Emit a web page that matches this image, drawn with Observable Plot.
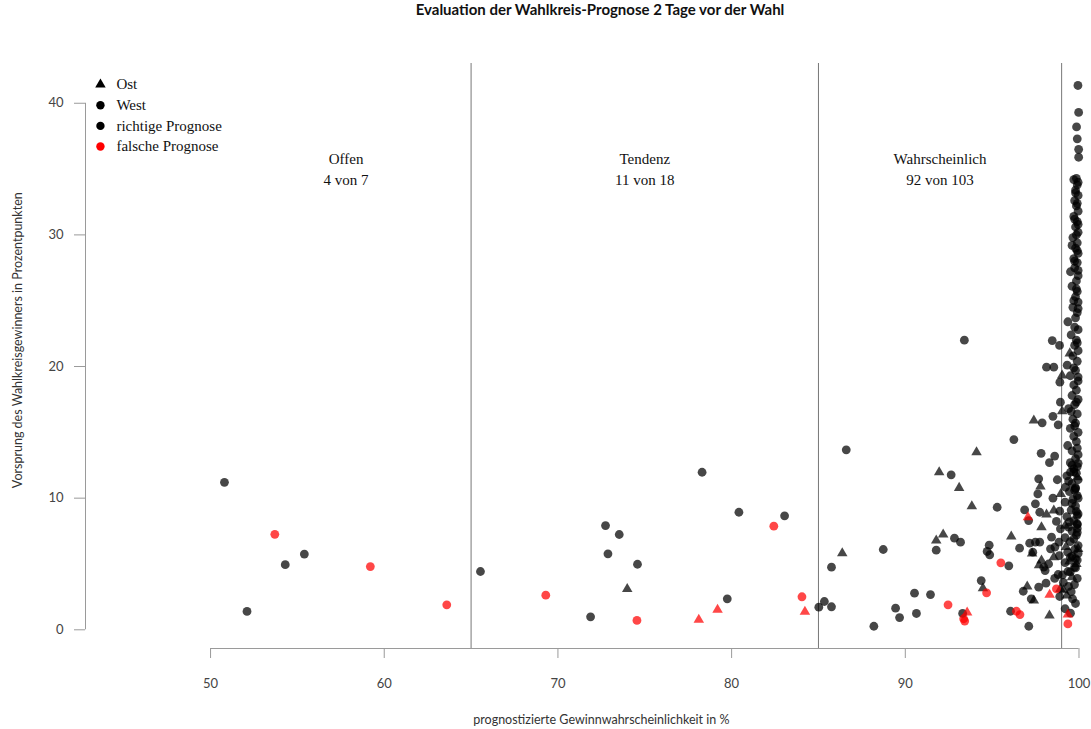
<!DOCTYPE html>
<html><head><meta charset="utf-8">
<script src="https://cdn.jsdelivr.net/npm/d3@7"></script>
<script src="https://cdn.jsdelivr.net/npm/@observablehq/plot@0.6"></script>
<style>
body{margin:0;background:#fff;}
#title{height:40px;line-height:40px;font:bold 15px Lato, sans-serif;position:relative;width:1091px;color:#111;}
#title span{position:absolute;left:600px;transform:translateX(-50%);white-space:nowrap;}
</style></head><body>
<div id="title"><span>Evaluation der Wahlkreis-Prognose 2 Tage vor der Wahl</span></div>
<div id="chart"></div>
<script>
// ---- data ----
const xTicks = [50, 60, 70, 80, 90, 100];
const yTicks = [0, 10, 20, 30, 40];
const cutoffs = [65, 85, 99];
const zoneNames = ["Offen", "Tendenz", "Wahrscheinlich"];
const zoneCounts = ["4 von 7", "11 von 18", "92 von 103"];
const zoneX = [57.8, 75, 92];
const legendLabels = ["Ost", "West", "richtige Prognose", "falsche Prognose"];
const legendSymbols = ["triangle", "circle", "circle", "circle"];
const legendColors = ["black", "black", "black", "red"];
const xTitle = "prognostizierte Gewinnwahrscheinlichkeit in %";
const yTitle = "Vorsprung des Wahlkreisgewinners in Prozentpunkten";

// West, richtige Prognose  [Wahrscheinlichkeit, Vorsprung]
const westRight = [
 [50.8,11.2],[52.1,1.4],[54.3,4.95],[55.4,5.75],
 [65.54,4.43],[71.88,0.99],[72.74,7.92],[72.88,5.77],[73.53,7.24],[74.58,4.98],[78.3,11.97],[79.75,2.35],[80.42,8.93],[83.05,8.66],
 [85.02,1.72],[85.34,2.15],[85.75,1.75],[85.75,4.76],[86.6,13.67],[88.19,0.27],[88.73,6.1],[89.44,1.64],[89.67,0.93],[90.53,2.78],
 [90.64,1.24],[91.45,2.68],[91.78,6.05],[92.64,11.77],[92.83,6.96],[93.18,6.66],[93.3,1.24],[93.4,22.0],[94.37,3.74],[94.83,6.43],
 [94.71,5.95],[94.86,5.7],[95.29,9.31],[95.96,4.86],[96.58,6.2],[96.06,1.41],[97.11,0.27],[96.79,2.93],[97.25,2.35],[97.68,3.24],
 [98.1,3.54],[98.89,2.53],[97.16,6.58],[97.34,5.9],[97.49,6.66],[97.74,6.66],[96.87,9.11],[97.1,8.3],[97.49,9.57],[97.74,8.93],
 [97.68,11.47],[97.63,10.32],[98.7,8.23],[98.42,7.04],[98.61,6.28],[98.36,6.15],[97.97,4.76],[98.05,4.5],[98.87,5.64],[98.85,6.66],
 [98.93,7.67],[98.89,9.01],[98.46,21.97],[98.88,21.6],[98.13,19.95],[98.55,19.95],[98.9,18.81],[98.93,17.29],[98.5,16.22],[97.88,15.72],
 [98.8,15.57],[96.25,14.45],[97.82,13.41],[98.3,12.7],[98.6,13.2],[98.75,11.4],[98.5,10.0],[98.8,4.2],[98.6,3.9],[98.25,5.0],
 [99.22,10.83],[99.51,11.97],[99.7,12.23],[99.95,12.65],[99.8,10.73],[99.9,8.68],[99.9,8.05],[99.9,7.4],[99.8,5.4],[99.74,4.76],
 [99.36,4.43],[99.05,4.18],[99.4,3.3],[99.5,5.5],[99.51,1.26],[99.63,2.35],[99.74,3.44],
 [99.5,4.4],[99.8,4.7],[99.2,5.1],[99.9,5.3],[99.6,5.6],[99.35,5.9],[99.75,6.1],[99.95,6.4],[99.5,6.7],[99.2,7.0],[99.85,7.2],[99.6,7.5],
 [99.4,7.8],[99.9,8.0],[99.7,8.3],[99.3,8.6],[99.95,8.8],[99.55,9.1],[99.8,9.4],[99.2,9.7],[99.65,9.9],[99.9,10.2],[99.45,10.5],[99.8,10.8],
 [99.6,11.1],[99.95,11.4],[99.3,11.7],[99.7,12.0],[99.9,12.4],[99.5,12.7],[99.8,13.0],[99.95,13.3],[99.6,13.6],[99.35,14.0],[99.85,14.3],
 [99.7,14.7],[99.95,15.0],[99.5,15.3],[99.8,15.7],[99.65,16.0],[99.9,16.4],[99.4,16.8],[99.75,17.1],[99.95,17.5],[99.6,17.8],[99.85,18.2],
 [99.7,18.6],[99.95,18.9],[99.5,19.3],[99.8,19.7],[99.32,20.1],[99.9,20.4],[99.65,20.8],[99.95,21.2],[99.75,21.6],[99.85,22.0],[99.55,22.4],
 [99.95,22.8],[99.36,23.4],[99.8,23.7],[99.9,24.1],[99.65,24.5],[99.95,24.9],[99.8,25.3],[99.9,25.7],[99.6,26.1],[99.85,26.5],[99.95,26.9],
 [99.51,27.2],[99.75,27.5],[99.9,27.9],[99.7,28.2],[99.95,28.6],[99.8,29.0],[99.9,29.4],[99.65,29.8],[99.95,30.2],[99.8,30.6],[99.9,31.0],
 [99.7,31.4],[99.95,31.8],[99.85,32.2],[99.75,32.6],[99.95,33.0],[99.8,33.4],[99.9,33.8],[99.7,34.2],[99.98,35.9],[99.98,36.5],[99.9,37.3],
 [99.86,38.2],[99.98,39.3],[99.94,41.35],
 [99.95,5.8],[99.7,6.9],[99.9,7.7],[99.45,8.2],[99.85,9.0],[99.6,9.6],[99.95,10.0],[99.75,10.6],[99.4,11.3],[99.85,11.9],[99.6,12.5],
 [99.9,13.8],[99.75,15.5],[99.55,16.6],[99.85,17.3],[99.95,19.2],[99.7,19.9],[99.9,21.8],[99.75,23.0],[99.95,24.4],[99.7,25.0],[99.85,25.9],
 [99.95,27.3],[99.75,28.0],[99.9,28.8],[99.6,29.2],[99.85,30.0],[99.95,30.8],[99.75,31.2],[99.9,32.4],[99.8,33.2],[99.95,34.0],[99.85,34.3],
 [99.1,3.6],[99.55,2.9],[99.8,2.0],[99.2,1.6],[99.9,3.9]
];
// Ost, richtige Prognose
const eastRight = [
 [73.99,3.1],
 [86.37,5.82],[91.78,6.78],[92.18,7.24],[91.95,11.97],[93.1,10.78],[93.83,9.39],[94.1,13.49],[94.47,3.16],[96.1,7.09],[97.02,3.29],
 [97.4,2.23],[98.93,3.11],[98.3,1.09],[97.4,15.9],[97.84,7.79],[97.78,10.88],[98.13,8.76],[98.55,9.06],[97.84,5.26],[98.55,5.52],
 [98.95,10.32],[97.3,5.8],[97.7,4.9],
 [99.03,19.32],[99.03,16.6],[99.95,6.15],[99.85,5.0],[99.1,3.0],[99.25,6.3],[99.45,5.2],[99.9,11.6],[99.47,21.0],[99.2,7.9],[99.6,4.0],[99.3,2.6]
];
// West, falsche Prognose
const westWrong = [
 [53.7,7.25],[59.2,4.8],[63.6,1.9],[69.3,2.63],[74.55,0.71],[82.43,7.87],[84.05,2.51],[92.46,1.9],[93.36,0.84],[93.42,0.66],
 [94.68,2.81],[95.5,5.09],[96.4,1.41],[96.6,1.16],[98.7,3.11],[99.36,0.45]
];
// Ost, falsche Prognose
const eastWrong = [
 [78.11,0.76],[79.19,1.52],[84.22,1.37],[93.56,1.31],[97.06,8.55],[98.31,2.66],[99.36,1.16]
];

// ---- chart ----
const xDomain = [42.8, 100.72];
const yDomain = [-1.42, 43.02];
const serif = "'Liberation Serif', 'DejaVu Serif', serif";
const toRows = arr => arr.map(([x, y]) => ({x, y}));
const zones = zoneNames.map((name, i) => ({name, count: zoneCounts[i], x: zoneX[i]}));
const legendRows = legendLabels.map((label, i) => ({label, symbol: legendSymbols[i], color: legendColors[i], x: 43.66, tx: 44.58, y: 41.42 - i * 1.57}));

const legendDots = legendRows.map(d => Plot.dot([d], {x: "x", y: "y", symbol: d.symbol, r: d.symbol === "triangle" ? 3.9 : 4.2, fill: d.color, stroke: "none"}));

const plot = Plot.plot({
  width: 1091, height: 689,
  marginLeft: 85, marginRight: 0, marginTop: 23, marginBottom: 81,
  x: {domain: xDomain},
  y: {domain: yDomain},
  style: {fontFamily: "Lato, sans-serif", background: "white", overflow: "visible"},
  marks: [
    Plot.ruleX(cutoffs, {stroke: "#777", strokeWidth: 1}),
    Plot.ruleY([yDomain[0]], {x1: xTicks[0], x2: xTicks[xTicks.length - 1], stroke: "#9a9a9a"}),
    Plot.ruleX([xDomain[0]], {y1: yTicks[0], y2: yTicks[yTicks.length - 1], stroke: "#9a9a9a"}),
    Plot.axisX(xTicks, {anchor: "bottom", tickSize: 10, tickPadding: 20, fontSize: 13, stroke: "#9a9a9a", fill: "#444", label: null}),
    Plot.axisY(yTicks, {anchor: "left", tickSize: 11, tickPadding: 11, fontSize: 13, stroke: "#9a9a9a", fill: "#444", label: null}),
    Plot.text([xTitle], {x: () => 72.5, y: () => yDomain[0], dy: 71, fontSize: 12.5, fill: "#333"}),
    Plot.text([yTitle], {x: () => xDomain[0], y: () => 22, dx: -68, rotate: -90, fontSize: 12.5, fill: "#333"}),
    Plot.text(zones, {x: "x", y: () => 35.72, text: "name", fontFamily: serif, fontSize: 15, fill: "#111"}),
    Plot.text(zones, {x: "x", y: () => 34.13, text: "count", fontFamily: serif, fontSize: 15, fill: "#111"}),
    Plot.dot(toRows(westRight), {x: "x", y: "y", symbol: "circle", r: 4.4, fill: "black", fillOpacity: 0.72, stroke: "none"}),
    Plot.dot(toRows(eastRight), {x: "x", y: "y", symbol: "triangle", r: 3.9, fill: "black", fillOpacity: 0.72, stroke: "none"}),
    Plot.dot(toRows(westWrong), {x: "x", y: "y", symbol: "circle", r: 4.4, fill: "red", fillOpacity: 0.72, stroke: "none"}),
    Plot.dot(toRows(eastWrong), {x: "x", y: "y", symbol: "triangle", r: 3.9, fill: "red", fillOpacity: 0.72, stroke: "none"}),
    ...legendDots,
    Plot.text(legendRows, {x: "tx", y: "y", text: "label", textAnchor: "start", fontFamily: serif, fontSize: 15, fill: "#111"})
  ]
});
document.getElementById("chart").appendChild(plot);
</script>
</body></html>
